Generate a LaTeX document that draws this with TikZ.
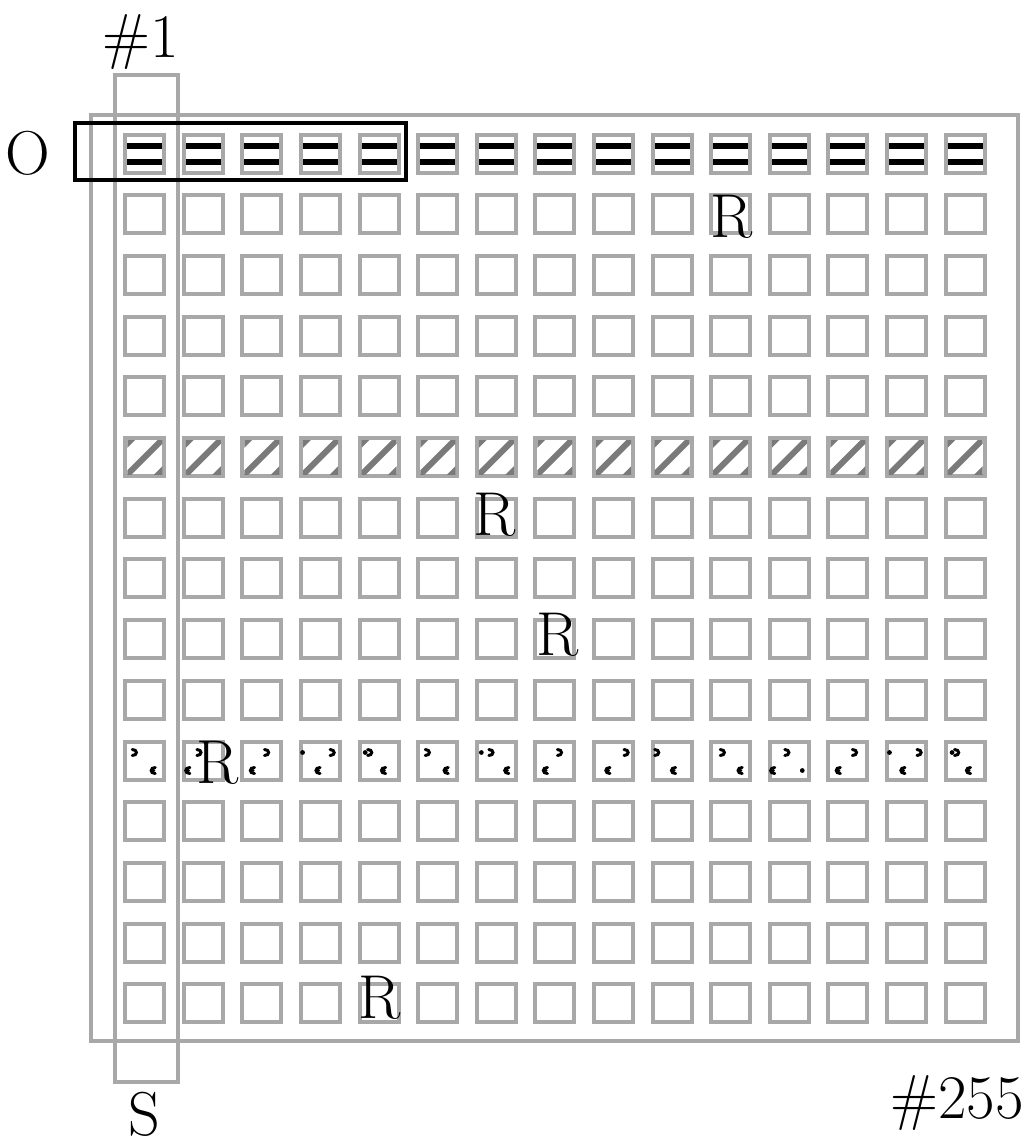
\documentclass[tikz,border=0pt]{standalone}
\usetikzlibrary{calc}
\definecolor{gridgray}{RGB}{168,168,168}
\definecolor{hatchgray}{RGB}{122,122,122}
\begin{document}
\begin{tikzpicture}[x=1pt,y=-1pt,
  cellbox/.style={draw=gridgray,line width=4pt},
  frame/.style={draw=gridgray,line width=4pt},
  selbox/.style={draw=black,line width=4pt},
  lbl/.style={font=\fontsize{62}{70}\selectfont,inner sep=0pt,text=black},
  markline/.style={draw=black,line width=3pt,line cap=round}]
\useasboundingbox (0,0) rectangle (1027,1148);
% frames
\draw[frame] (91,115) rectangle (1018,1041);
\draw[frame] (115,74.5) rectangle (177.5,1082);
% cells
\foreach \i in {0,...,14}{
  \foreach \j in {0,...,14}{
    \pgfmathsetmacro\cx{144.8+58.59*\i}
    \pgfmathsetmacro\cy{153.5+60.7*\j}
    \draw[cellbox] (\cx-19.5,\cy-19) rectangle (\cx+19.5,\cy+19);
  }}
% row 0 : bars
\foreach \i in {0,...,14}{
  \pgfmathsetmacro\cx{144.8+58.59*\i}
  \pgfmathsetmacro\cy{153.5}
  \fill[black] (\cx-17.5,\cy-11) rectangle (\cx+17.5,\cy-5);
  \fill[black] (\cx-17.5,\cy+5) rectangle (\cx+17.5,\cy+11.5);
}
% row 5 : hatching
\foreach \i in {0,...,14}{
  \pgfmathsetmacro\cx{144.8+58.59*\i}
  \pgfmathsetmacro\cy{153.5+60.7*5}
  \begin{scope}
    \clip (\cx-17.5,\cy-17) rectangle (\cx+17.5,\cy+17);
    \foreach \d in {-31,0,31}{
      \draw[hatchgray,line width=6pt] (\cx+\d-30,\cy+30) -- (\cx+\d+30,\cy-30);
    }
  \end{scope}
}
% row 10 : dotted marks
\foreach \i/\t/\b in {0/-10/8,1/-4/-16,2/5/-10,3/12/-3,4/-9/4,5/-10/8,6/-5/10,7/5/-10,
                      8/13/-6,9/-15/1,10/-8/9,11/-2/-17,12/7/-10,13/13/-4,14/-8/3}{
  \pgfmathsetmacro\cx{144.8+58.59*\i}
  \pgfmathsetmacro\cy{153.5+60.7*10}
  \draw[markline] (\cx+\t-2.5,\cy-11) .. controls (\cx+\t+3,\cy-11) and (\cx+\t+3,\cy-5) .. (\cx+\t-2.5,\cy-5);
  \draw[markline] (\cx+\b+2.5,\cy+7) .. controls (\cx+\b-3,\cy+7) and (\cx+\b-3,\cy+13) .. (\cx+\b+2.5,\cy+13);
  \fill[black] (\cx+\b+1,\cy+10) circle (1.6pt);
}
\foreach \i/\dx/\dy in {3/-18/-8,4/-14/-8,6/-15/-8,11/13/10,13/-17/-8,14/-13/-8}{
  \pgfmathsetmacro\cx{144.8+58.59*\i}
  \pgfmathsetmacro\cy{153.5+60.7*10}
  \fill[black] (\cx+\dx,\cy+\dy) circle (2.4pt);
}
% selection box
\draw[selbox] (74.5,123) rectangle (406,180);
% labels
\node[lbl,anchor=base] (n1) at (141,58) {\#1};
\node[lbl,anchor=base] (nO) at (28,174) {O};
\node[lbl,anchor=base] (nS) at (144,1135) {S};
\node[lbl,anchor=base east] (n255) at (1024,1118) {\#255};
\node[lbl,anchor=base] (r1) at (732,237) {R};
\node[lbl,anchor=base] (r2) at (495,535) {R};
\node[lbl,anchor=base] (r3) at (558,655) {R};
\node[lbl,anchor=base] (r4) at (218,783) {R};
\node[lbl,anchor=base] (r5) at (380,1018) {R};
\end{tikzpicture}
\end{document}
